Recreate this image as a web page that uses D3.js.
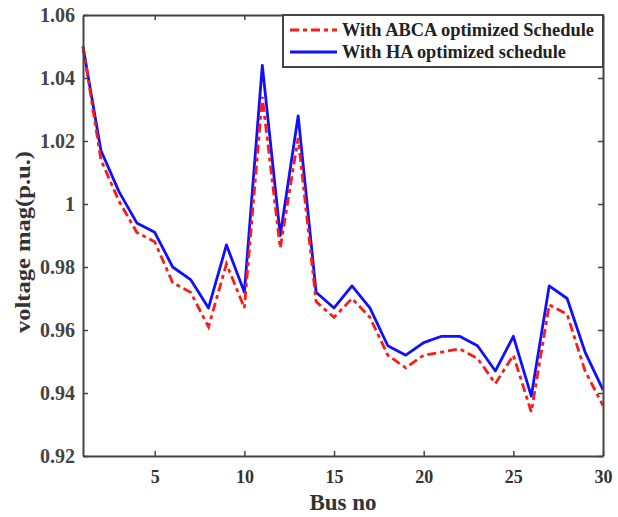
<!DOCTYPE html>
<html><head><meta charset="utf-8">
<script src="https://cdn.jsdelivr.net/npm/d3@7"></script>
<style>body{margin:0;background:#fff}svg{display:block}</style>
</head><body>
<svg id="c" width="618" height="517"></svg>
<script>
const buses = d3.range(1, 31);
const abca = [1.050,1.014,1.001,0.991,0.988,0.975,0.972,0.961,0.981,0.967,1.034,0.986,1.021,0.969,0.964,0.970,0.964,0.952,0.948,0.952,0.953,0.954,0.951,0.943,0.952,0.934,0.968,0.965,0.947,0.936];
const ha   = [1.050,1.017,1.004,0.994,0.991,0.980,0.976,0.967,0.987,0.972,1.044,0.990,1.028,0.972,0.967,0.974,0.967,0.955,0.952,0.956,0.958,0.958,0.955,0.947,0.958,0.939,0.974,0.970,0.953,0.941];
const xTicks = [5,10,15,20,25,30];
const yTicks = [0.92,0.94,0.96,0.98,1.00,1.02,1.04,1.06];
const seriesNames = ["With ABCA optimized Schedule","With HA optimized schedule"];

const svg = d3.select("#c");
const L=83, R=603, T=15, B=456;
const x = d3.scaleLinear().domain([1,30]).range([L,R]);
const y = d3.scaleLinear().domain([0.92,1.06]).range([B,T]);
const axisCol = "#444";

// lines
const line = d3.line().x((d,i)=>x(buses[i])).y(d=>y(d));
svg.append("path").datum(ha).attr("d",line).attr("fill","none")
  .attr("stroke","#1010ff").attr("stroke-width",2.8).attr("stroke-linejoin","round");
svg.append("path").datum(abca).attr("d",line).attr("fill","none")
  .attr("stroke","#ff1a1a").attr("stroke-width",2.8).attr("stroke-dasharray","9,4,4,4");

// axes
const fmtY = d => d===1 ? "1" : d3.format(".2f")(d);
const gx = svg.append("g").attr("transform",`translate(0,${B})`)
  .call(d3.axisBottom(x).tickValues(xTicks).tickSizeInner(-5).tickSizeOuter(0).tickPadding(14));
const gxt = svg.append("g").attr("transform",`translate(0,${T})`)
  .call(d3.axisTop(x).tickValues(xTicks).tickSizeInner(-5).tickSizeOuter(0).tickFormat(""));
const gy = svg.append("g").attr("transform",`translate(${L},0)`)
  .call(d3.axisLeft(y).tickValues(yTicks).tickSizeInner(-5).tickSizeOuter(0).tickPadding(8).tickFormat(fmtY));
const gyr = svg.append("g").attr("transform",`translate(${R},0)`)
  .call(d3.axisRight(y).tickValues(yTicks).tickSizeInner(-5).tickSizeOuter(0).tickFormat(""));
[gx,gxt,gy,gyr].forEach(g=>{
  g.selectAll("path").attr("stroke",axisCol).attr("stroke-width",2);
  g.selectAll("line").attr("stroke",axisCol).attr("stroke-width",1.5);
});
gx.selectAll("text").attr("font-family","Liberation Serif").attr("font-size",18)
  .attr("font-weight","bold").attr("fill","#333");
gy.selectAll("text").attr("font-family","Liberation Serif").attr("font-size",20)
  .attr("fill","#444").attr("font-weight","bold");

// axis labels
svg.append("text").attr("x",(L+R)/2).attr("y",510).attr("text-anchor","middle")
  .attr("font-family","Liberation Serif").attr("font-weight","bold").attr("font-size",23)
  .attr("fill","#333").text("Bus no");
svg.append("text").attr("transform","translate(30,242) rotate(-90)").attr("text-anchor","middle")
  .attr("font-family","Liberation Serif").attr("font-weight","bold").attr("font-size",21)
  .attr("textLength",182).attr("lengthAdjust","spacingAndGlyphs")
  .attr("fill","#333").text("voltage mag(p.u.)");

// legend
const lg = svg.append("g");
lg.append("rect").attr("x",283).attr("y",T).attr("width",R-283).attr("height",52)
  .attr("fill","#fff").attr("stroke",axisCol).attr("stroke-width",2);
const cols = ["#ff1a1a","#1010ff"], dash=["9,4,4,4",null], lens=[252,224];
seriesNames.forEach((n,i)=>{
  const yy = 30 + i*22;
  lg.append("line").attr("x1",290).attr("x2",337).attr("y1",yy).attr("y2",yy)
    .attr("stroke",cols[i]).attr("stroke-width",2.8).attr("stroke-dasharray",dash[i]);
  lg.append("text").attr("x",342).attr("y",yy+6).attr("font-family","Liberation Serif")
    .attr("font-weight","bold").attr("font-size",18).attr("textLength",lens[i])
    .attr("lengthAdjust","spacingAndGlyphs").attr("fill","#222").text(n);
});
</script>
</body></html>
